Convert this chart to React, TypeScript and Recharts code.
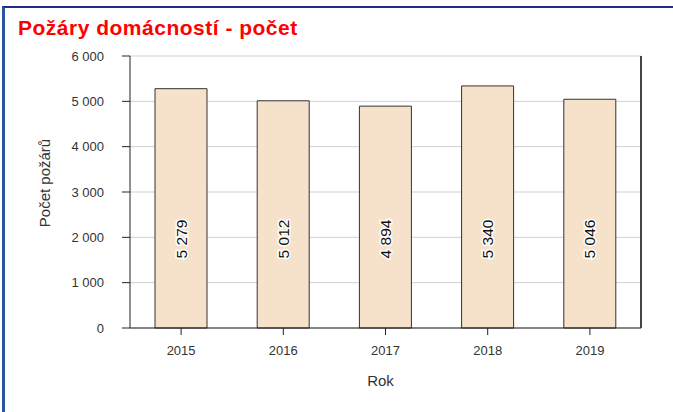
import { BarChart, Bar, XAxis, YAxis, CartesianGrid, LabelList } from 'recharts'

const years = ['2015', '2016', '2017', '2018', '2019']
const fires = [5279, 5012, 4894, 5340, 5046]
const yTicks = [0, 1000, 2000, 3000, 4000, 5000, 6000]

const FONT = '"Liberation Sans", Arial, sans-serif'

const data = years.map((year, i) => ({ year, fires: fires[i] }))

function fmt(v: number): string {
  return String(v).replace(/\B(?=(\d{3})+(?!\d))/g, ' ')
}

function ValueLabel(props: any) {
  const { x, y, width, height, value } = props
  const cx = x + width / 2
  const cy = y + height - 89
  return (
    <text
      x={cx}
      y={cy}
      transform={`rotate(-90, ${cx}, ${cy})`}
      textAnchor="middle"
      dominantBaseline="central"
      fontFamily={FONT}
      fontSize={15.5}
      fill="#111"
      stroke="#fff"
      strokeWidth={3}
      paintOrder="stroke"
    >
      {fmt(value)}
    </text>
  )
}

export default function App() {
  return (
    <div style={{ position: 'relative', width: 673, height: 412, background: '#fff', overflow: 'hidden' }}>
      <style>{'body{margin:0}'}</style>
      <div
        style={{
          position: 'absolute',
          left: 2,
          top: 6,
          right: 0,
          bottom: 0,
          borderTop: '2px solid #1c2f8a',
          borderLeft: '3px solid #2c55a6',
        }}
      />
      <div
        style={{
          position: 'absolute',
          left: 18,
          top: 16,
          color: '#ff0000',
          fontFamily: FONT,
          fontWeight: 'bold',
          fontSize: 21,
          letterSpacing: 0.5,
        }}
      >
        Požáry domácností - počet
      </div>
      <div style={{ position: 'absolute', left: 0, top: 0 }}>
        <BarChart
          width={673}
          height={412}
          data={data}
          margin={{ top: 56, right: 0, left: 0, bottom: 0 }}
        >
          <CartesianGrid vertical={false} stroke="#cfcfcf" />
          <XAxis
            dataKey="year"
            height={84}
            tick={{ fill: '#333', fontSize: 13, fontFamily: FONT }}
            tickSize={7}
            tickMargin={11}
            axisLine={{ stroke: '#222' }}
            tickLine={{ stroke: '#222' }}
            label={{ value: 'Rok', position: 'insideBottom', offset: 26, dx: -5, fill: '#333', fontSize: 15, fontFamily: FONT }}
          />
          <XAxis xAxisId="top" dataKey="year" orientation="top" height={0} tick={false} tickLine={false} axisLine={{ stroke: '#444', strokeWidth: 2 }} />
          <YAxis
            domain={[0, 6000]}
            ticks={yTicks}
            width={130}
            tickFormatter={fmt}
            tick={{ fill: '#333', fontSize: 13, fontFamily: FONT }}
            tickSize={8}
            tickMargin={18}
            axisLine={{ stroke: '#222' }}
            tickLine={{ stroke: '#222' }}
            label={{ value: 'Počet požárů', angle: -90, position: 'center', dx: -20, dy: -9, fill: '#333', fontSize: 15, fontFamily: FONT }}
          />
          <YAxis yAxisId="right" orientation="right" width={32} domain={[0, 6000]} tick={false} tickLine={false} axisLine={{ stroke: '#444', strokeWidth: 2 }} />
          <Bar dataKey="fires" fill="#f6e2ca" stroke="#333" strokeWidth={1} barSize={52} isAnimationActive={false}>
            <LabelList dataKey="fires" content={ValueLabel} />
          </Bar>
        </BarChart>
      </div>
    </div>
  )
}
